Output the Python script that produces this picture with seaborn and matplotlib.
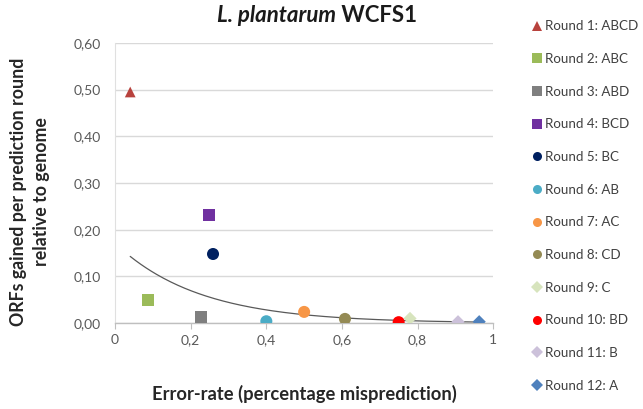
import numpy as np
import pandas as pd
import matplotlib
matplotlib.use("Agg")
import matplotlib.pyplot as plt
import seaborn as sns

labels = ["Round 1: ABCD", "Round 2: ABC", "Round 3: ABD", "Round 4: BCD",
          "Round 5: BC", "Round 6: AB", "Round 7: AC", "Round 8: CD",
          "Round 9: C", "Round 10: BD", "Round 11: B", "Round 12: A"]
error_rate = [0.04, 0.087, 0.228, 0.249, 0.259, 0.40, 0.50, 0.608, 0.78, 0.75, 0.907, 0.963]
orfs_gained = [0.495, 0.049, 0.013, 0.231, 0.148, 0.004, 0.024, 0.009, 0.010, 0.002, 0.003, 0.003]
colors = ["#B8423D", "#9BBB59", "#7F7F7F", "#7030A0", "#002060", "#4BACC6",
          "#F79646", "#948A54", "#D7E4BD", "#FF0000", "#CCC1DA", "#4F81BD"]
marker_kinds = ["^", "s", "s", "s", "o", "o", "o", "o", "D", "o", "D", "D"]
trend_a = 0.171
trend_b = -4.5
xticks = [0, 0.2, 0.4, 0.6, 0.8, 1]
xtick_labels = ["0", "0,2", "0,4", "0,6", "0,8", "1"]
yticks = [0.0, 0.1, 0.2, 0.3, 0.4, 0.5, 0.6]
ytick_labels = ["0,00", "0,10", "0,20", "0,30", "0,40", "0,50", "0,60"]

sns.set_theme(style="white")
plt.rcParams["font.family"] = ["Lato", "DejaVu Sans"]

df = pd.DataFrame({"label": labels, "x": error_rate, "y": orfs_gained})

fig = plt.figure(figsize=(6.43, 4.09), dpi=100)
ax = fig.add_axes([0.179, 0.21, 0.588, 0.685])

# trendline
tx = np.linspace(min(error_rate), max(error_rate), 200)
trend = pd.DataFrame({"x": tx, "y": trend_a * np.exp(trend_b * tx)})
sns.lineplot(data=trend, x="x", y="y", ax=ax, color="#595959", lw=0.9, legend=False, zorder=2)

sizes = {l: (60 if m == "^" else 45 if m == "D" else 75) for l, m in zip(labels, marker_kinds)}
sns.scatterplot(data=df, x="x", y="y", hue="label", style="label", size="label",
                sizes=sizes, palette=dict(zip(labels, colors)),
                markers=dict(zip(labels, marker_kinds)), hue_order=labels,
                style_order=labels, size_order=labels,
                edgecolor="none", linewidth=0, ax=ax, zorder=3)

ax.set_xlim(0, 1)
ax.set_ylim(0, 0.6)
ax.set_xticks(xticks)
ax.set_xticklabels(xtick_labels)
ax.set_yticks(yticks)
ax.set_yticklabels(ytick_labels)
ax.tick_params(axis="x", colors="#595959", labelsize=10, length=4, width=0.8,
               direction="out", bottom=True, color="#BFBFBF", pad=4)
ax.tick_params(axis="y", colors="#595959", labelsize=10, length=0, pad=10)
ax.yaxis.grid(True, color="#D9D9D9", lw=1)
ax.xaxis.grid(False)
for s in ["top", "right"]:
    ax.spines[s].set_visible(False)
ax.spines["left"].set_color("#E0E0E0")
ax.spines["bottom"].set_color("#BFBFBF")
ax.spines["left"].set_linewidth(0.8)
ax.spines["bottom"].set_linewidth(1)

ax.set_xlabel("Error-rate (percentage misprediction)", fontsize=13.2,
              fontweight="bold", color="#262626")
ax.xaxis.set_label_coords(0.5, -0.22)
ax.set_ylabel("ORFs gained per prediction round\nrelative to genome", fontsize=12.8,
              fontweight="bold", color="#262626", linespacing=1.45)
ax.yaxis.set_label_coords(-0.172, 0.47)

t1 = fig.text(0.337, 0.945, "L. plantarum", fontsize=16, fontweight="bold",
              fontstyle="italic", color="#1a1a1a", va="baseline", ha="left")
ax.annotate(" WCFS1", xy=(1, 0), xycoords=t1, fontsize=16, fontweight="bold",
            color="#1a1a1a", va="bottom", ha="left")

leg = ax.legend(loc="upper left", bbox_to_anchor=(1.08, 1.1), frameon=False,
                fontsize=9.6, labelspacing=1.55, handletextpad=0.0,
                handlelength=1.2, borderaxespad=0)
for t in leg.get_texts():
    t.set_color("#404040")
for h in leg.legend_handles:
    try:
        h.set_markersize(6.5)
    except Exception:
        try:
            h.set_sizes([35])
        except Exception:
            pass

fig.savefig("out.png", dpi=100)
